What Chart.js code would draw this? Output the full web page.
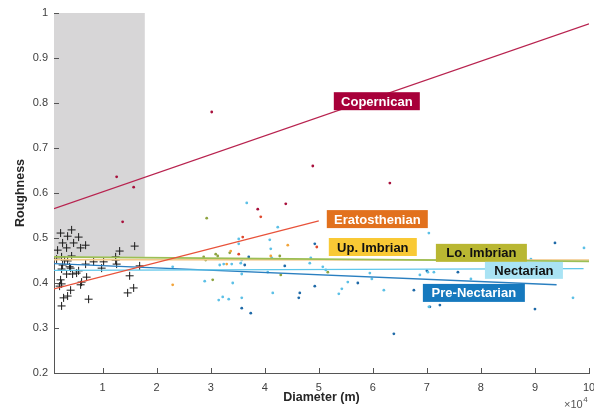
<!DOCTYPE html>
<html>
<head>
<meta charset="utf-8">
<script src="https://cdn.jsdelivr.net/npm/chart.js@4.4.1/dist/chart.umd.min.js"></script>
<style>
  html, body { margin: 0; padding: 0; background: #fff; }
  #wrap { width: 594px; height: 411px; }
</style>
</head>
<body>
<div id="wrap"><canvas id="myChart" width="594" height="411"></canvas></div>
<script>
// tick values
const xTicks = [10000, 20000, 30000, 40000, 50000, 60000, 70000, 80000, 90000, 100000];
const yTicks = [0.2, 0.3, 0.4, 0.5, 0.6, 0.7, 0.8, 0.9, 1];

// black crosses (small craters, shaded zone)
const crossX = [2222, 4259, 5556, 3519, 2593, 1667, 3333, 4630, 5926, 6852, 2407, 4259, 2963, 3519, 2407, 3889, 2593, 4074, 5185, 5556, 3333, 4444, 2222, 2407, 2037, 6111, 5926, 7037, 4074, 2778, 3519, 2407, 7407, 6852, 8333, 10185, 9815, 12407, 12593, 13148, 15926, 16852, 15000, 15741, 14630, 12407, 1481];
const crossY = [0.511, 0.518, 0.502, 0.504, 0.489, 0.473, 0.478, 0.489, 0.478, 0.484, 0.458, 0.460, 0.451, 0.449, 0.431, 0.436, 0.440, 0.433, 0.422, 0.427, 0.420, 0.420, 0.407, 0.398, 0.393, 0.402, 0.396, 0.413, 0.384, 0.367, 0.371, 0.349, 0.364, 0.442, 0.447, 0.447, 0.433, 0.458, 0.442, 0.471, 0.482, 0.438, 0.416, 0.389, 0.378, 0.451, 0.453];

// coloured dots per age
const copX = [12593, 15741, 13700, 30185, 48889, 63148, 38704, 43889];
const copY = [0.636, 0.613, 0.536, 0.780, 0.660, 0.622, 0.564, 0.576];
const eraX = [35926, 35185, 49630, 39259];
const eraY = [0.502, 0.464, 0.480, 0.547];
const upImX = [22963, 33700, 44259, 41111, 32963];
const upImY = [0.396, 0.471, 0.484, 0.460, 0.442];
const loImX = [29259, 30926, 31296, 28700, 29070, 30370, 33518, 42778, 42963, 51667];
const loImY = [0.544, 0.464, 0.460, 0.458, 0.451, 0.407, 0.467, 0.460, 0.418, 0.424];
const necX = [36667, 35185, 35185, 35556, 35741, 22963, 31667, 32407, 33889, 28889, 34074, 35741, 31481, 32222, 33333, 35741, 42407, 40926, 41111, 41296, 40556, 41481, 48333, 48518, 50741, 51296, 53704, 54259, 59444, 59815, 62037, 70370, 68704, 70185, 71296, 70370, 89259, 99074, 97037, 78148, 55370];
const necY = [0.578, 0.498, 0.487, 0.444, 0.451, 0.436, 0.440, 0.442, 0.442, 0.404, 0.400, 0.420, 0.362, 0.369, 0.364, 0.367, 0.524, 0.496, 0.476, 0.456, 0.424, 0.378, 0.444, 0.456, 0.436, 0.429, 0.376, 0.387, 0.422, 0.409, 0.384, 0.511, 0.418, 0.424, 0.424, 0.347, 0.453, 0.478, 0.367, 0.409, 0.402];
const preX = [36296, 35741, 37407, 37037, 43704, 46481, 46296, 49259, 49259, 57222, 63889, 67593, 72407, 70556, 90000, 93704, 70000, 75741];
const preY = [0.440, 0.344, 0.333, 0.458, 0.438, 0.378, 0.367, 0.393, 0.487, 0.400, 0.287, 0.384, 0.351, 0.347, 0.342, 0.489, 0.427, 0.424];

// fitted trend lines (end points)
const copLineX = [1000, 100000];
const copLineY = [0.565, 0.976];
const eraLineX = [1000, 50000];
const eraLineY = [0.387, 0.538];
const upImLineX = [1000, 100000];
const upImLineY = [0.452, 0.451];
const loImLineX = [1000, 100000];
const loImLineY = [0.458, 0.448];
const necLineX = [1000, 99000];
const necLineY = [0.428, 0.432];
const preLineX = [1000, 94000];
const preLineY = [0.443, 0.396];

// shaded zone
const zoneX = [1000, 17800];
const zoneY = [0.458, 1];

// label names
const labelNames = ["Copernican", "Eratosthenian", "Up. Imbrian", "Lo. Imbrian", "Nectarian", "Pre-Nectarian"];

const pts = (xs, ys) => xs.map((x, i) => ({ x: x, y: ys[i] }));

function dots(xs, ys, color) {
  return {
    type: "scatter",
    data: pts(xs, ys),
    backgroundColor: color,
    borderWidth: 0,
    pointRadius: 1.4,
    pointHoverRadius: 1.4,
  };
}

function trend(xs, ys, color, width) {
  return {
    type: "line",
    data: pts(xs, ys),
    borderColor: color,
    borderWidth: width || 1.2,
    pointRadius: 0,
    fill: false,
    tension: 0,
  };
}

// label boxes anchored at data coords of top-left corner
const labelBoxes = [
  { x: 52778, y: 0.824, w: 86, h: 18, bg: "#a8003a", fg: "#ffffff" },
  { x: 51481, y: 0.562, w: 101, h: 18, bg: "#e2711d", fg: "#ffffff" },
  { x: 51852, y: 0.500, w: 88, h: 18, bg: "#f9c935", fg: "#111111" },
  { x: 71667, y: 0.487, w: 91, h: 18, bg: "#b9b732", fg: "#111111" },
  { x: 80741, y: 0.447, w: 78, h: 17, bg: "#a9e3f4", fg: "#111111" },
  { x: 69259, y: 0.398, w: 102, h: 18, bg: "#1679be", fg: "#ffffff" },
];

const FONT = "'Liberation Sans', Arial, sans-serif";

const zonePlugin = {
  id: "zone",
  beforeDatasetsDraw(chart) {
    const { ctx, scales } = chart;
    const x0 = scales.x.getPixelForValue(zoneX[0]);
    const x1 = scales.x.getPixelForValue(zoneX[1]);
    const y0 = scales.y.getPixelForValue(zoneY[1]);
    const y1 = scales.y.getPixelForValue(zoneY[0]);
    ctx.save();
    ctx.fillStyle = "#d7d6d7";
    ctx.fillRect(x0, y0, x1 - x0, y1 - y0);
    ctx.restore();
  },
};

const decorPlugin = {
  id: "decor",
  afterDraw(chart) {
    const { ctx, scales, chartArea } = chart;
    ctx.save();
    // inward tick marks
    ctx.strokeStyle = "#555555";
    ctx.lineWidth = 1;
    ctx.beginPath();
    xTicks.forEach((v) => {
      const px = Math.round(scales.x.getPixelForValue(v)) + 0.5;
      ctx.moveTo(px, chartArea.bottom);
      ctx.lineTo(px, chartArea.bottom - 5);
    });
    yTicks.forEach((v) => {
      const py = Math.round(scales.y.getPixelForValue(v)) + 0.5;
      ctx.moveTo(chartArea.left, py);
      ctx.lineTo(chartArea.left + 5, py);
    });
    ctx.stroke();

    // label boxes
    ctx.font = "bold 13px " + FONT;
    ctx.textAlign = "center";
    ctx.textBaseline = "middle";
    labelBoxes.forEach((b, i) => {
      const px = scales.x.getPixelForValue(b.x);
      const py = scales.y.getPixelForValue(b.y);
      ctx.fillStyle = b.bg;
      ctx.fillRect(px, py, b.w, b.h);
      ctx.fillStyle = b.fg;
      ctx.fillText(labelNames[i], px + b.w / 2, py + b.h / 2 + 1);
    });

    // x10^4 exponent
    ctx.fillStyle = "#555555";
    ctx.textAlign = "left";
    ctx.textBaseline = "alphabetic";
    ctx.font = "11px " + FONT;
    const base = "\u00d710";
    const bw = ctx.measureText(base).width;
    ctx.fillText(base, 564, 408);
    ctx.font = "8px " + FONT;
    ctx.fillText("4", 564 + bw + 0.5, 402);
    ctx.restore();
  },
};

const ctx = document.getElementById("myChart").getContext("2d");
const myChart = new Chart(ctx, {
  data: {
    datasets: [
      trend(copLineX, copLineY, "#b8234f"),
      trend(eraLineX, eraLineY, "#e8523a"),
      trend(loImLineX, loImLineY, "#9cbf55", 1.6),
      trend(upImLineX, upImLineY, "#f2c88a", 1.6),
      trend(necLineX, necLineY, "#5ec6ea", 1.4),
      trend(preLineX, preLineY, "#2a7fc0", 1.4),
      dots(copX, copY, "#a8103c"),
      dots(eraX, eraY, "#df4a2e"),
      dots(upImX, upImY, "#f2a43a"),
      dots(loImX, loImY, "#8ea440"),
      dots(necX, necY, "#5cc0e6"),
      dots(preX, preY, "#1f6aa8"),
      {
        type: "scatter",
        data: pts(crossX, crossY),
        pointStyle: "cross",
        pointRadius: 4,
        pointHoverRadius: 4,
        borderColor: "#1a1a1a",
        borderWidth: 1,
      },
    ],
  },
  options: {
    responsive: false,
    animation: false,
    events: [],
    layout: { padding: { top: 13, right: 4, bottom: 0, left: 0 } },
    plugins: {
      legend: { display: false },
      tooltip: { enabled: false },
    },
    scales: {
      x: {
        type: "linear",
        min: 1000,
        max: 100000,
        afterBuildTicks: (scale) => {
          scale.ticks = xTicks.map((v) => ({ value: v }));
        },
        afterFit: (scale) => {
          scale.height = 38;
          scale.paddingLeft = 0;
          scale.paddingRight = 0;
        },
        grid: { display: true, drawOnChartArea: false, drawTicks: false },
        border: { display: true, color: "#555555", width: 1 },
        ticks: {
          padding: 8,
          color: "#404040",
          font: { family: FONT, size: 11 },
          maxRotation: 0,
          autoSkip: false,
          callback: (v) => String(Math.round(v / 10000)),
        },
        title: {
          display: true,
          text: "Diameter (m)",
          color: "#262626",
          font: { family: FONT, size: 12.5, weight: "bold" },
          padding: { top: 0, bottom: 6 },
        },
      },
      y: {
        type: "linear",
        min: 0.2,
        max: 1,
        afterBuildTicks: (scale) => {
          scale.ticks = yTicks.map((v) => ({ value: v }));
        },
        afterFit: (scale) => {
          scale.width = 54;
          scale.paddingTop = 0;
          scale.paddingBottom = 0;
        },
        grid: { display: true, drawOnChartArea: false, drawTicks: false },
        border: { display: true, color: "#555555", width: 1 },
        ticks: {
          padding: 6,
          color: "#404040",
          font: { family: FONT, size: 11 },
          autoSkip: false,
          callback: (v) => String(Number(v.toFixed(1))),
        },
        title: {
          display: true,
          text: "Roughness",
          color: "#262626",
          font: { family: FONT, size: 12.5, weight: "bold" },
          padding: { top: 13, bottom: 0 },
        },
      },
    },
  },
  plugins: [zonePlugin, decorPlugin],
});
</script>
</body>
</html>
